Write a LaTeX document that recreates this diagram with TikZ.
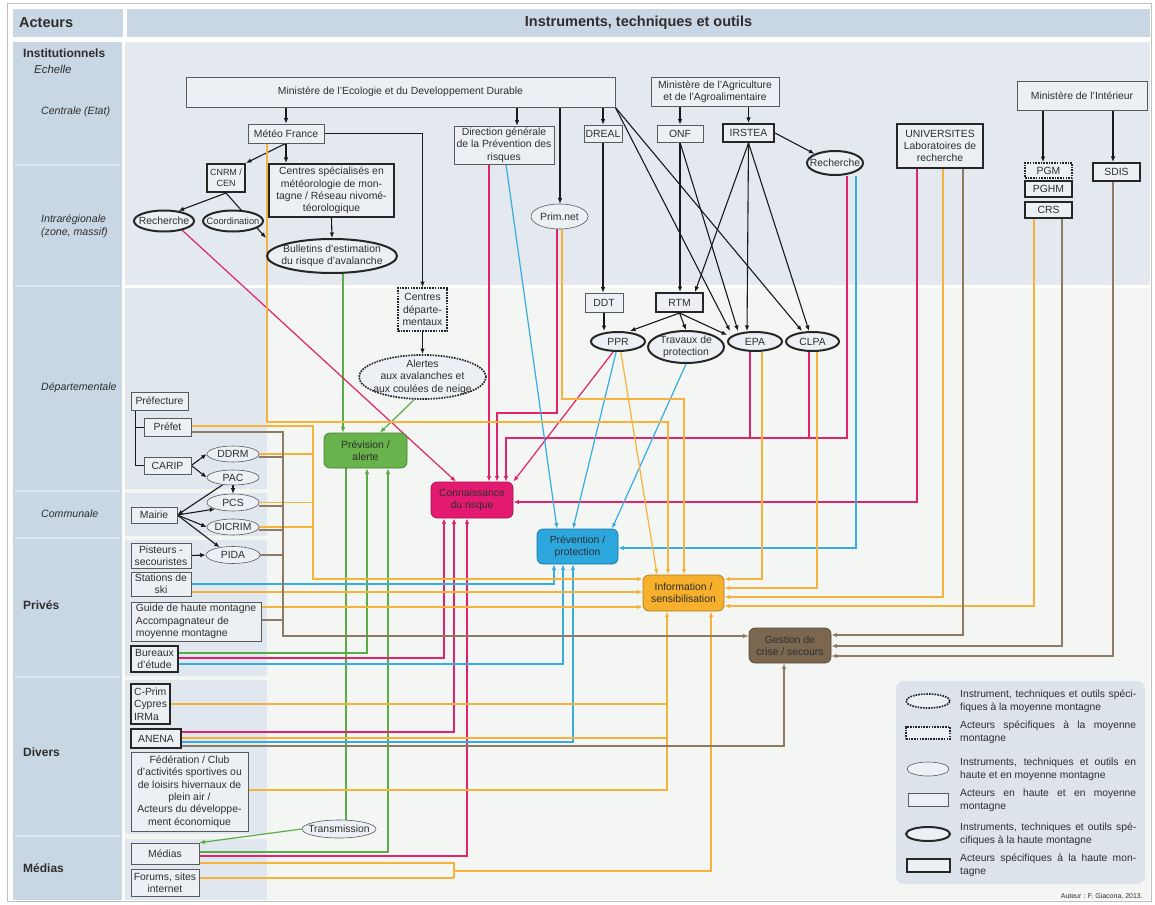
\documentclass[tikz,border=0pt]{standalone}
\usepackage{fontspec}
\setmainfont{Liberation Sans}
\usetikzlibrary{arrows.meta,shapes.geometric}
\pgfdeclarelayer{back}
\pgfdeclarelayer{mid}
\pgfsetlayers{back,mid,main}
\definecolor{colA}{HTML}{C9D6E4}
\definecolor{colLine}{HTML}{DDE5ED}
\definecolor{colTop}{HTML}{E4E9F0}
\definecolor{colLow}{HTML}{F4F6F4}
\definecolor{colStrip}{HTML}{E0E7EF}
\definecolor{colLeg}{HTML}{DCE3EB}
\definecolor{nfill}{HTML}{ECF0F5}
\definecolor{txt}{HTML}{2E2E2E}
\definecolor{gry}{HTML}{5A5A5A}
\definecolor{cRed}{HTML}{E0236D}
\definecolor{cBlue}{HTML}{36ACE0}
\definecolor{cOr}{HTML}{F6B23A}
\definecolor{cGreen}{HTML}{5AAD46}
\definecolor{cBrown}{HTML}{8D7B65}
\definecolor{fGreen}{HTML}{68B34B}
\definecolor{fRed}{HTML}{E31A70}
\definecolor{fBlue}{HTML}{2BA7DE}
\definecolor{fOr}{HTML}{F6B02C}
\definecolor{fBrown}{HTML}{7B6750}
\tikzset{
  every node/.style={text=txt, inner sep=0pt, align=center, font=\fontsize{10.4}{12.4}\selectfont},
  sz/.style 2 args={minimum width=#1pt, minimum height=#2pt},
  tbox/.style={draw=gry, line width=0.6pt, fill=nfill},
  kbox/.style={draw=black!85, line width=2pt, fill=nfill},
  dbox/.style={draw=black!85, line width=1.7pt, dash pattern=on 1.6pt off 1.1pt, fill=nfill},
  el/.style={ellipse},
  lbl/.style={align=center, text=txt, font=\fontsize{10.4}{12.4}\selectfont},
  tx/.style={label={[lbl]center:#1}},
  hub/.style={rounded corners=6pt, line width=0.7pt},
  arw/.style={-{Latex[length=5.5pt,width=4.5pt]}},
  kl/.style={draw=black!90, line width=1.1pt},
  rl/.style={draw=cRed, line width=1.2pt},
  bl/.style={draw=cBlue, line width=1.2pt},
  ol/.style={draw=cOr, line width=1.2pt},
  gl/.style={draw=cGreen, line width=1.2pt},
  nl/.style={draw=cBrown, line width=1.2pt},
  rowb/.style={anchor=west, font=\bfseries\fontsize{12}{14}\selectfont},
  rowi/.style={anchor=west, align=left, font=\itshape\fontsize{10.6}{12.5}\selectfont},
  legt/.style={anchor=west, text width=176pt, align=justify, font=\fontsize{10.3}{12.8}\selectfont}
}
\begin{document}
\begin{tikzpicture}[x=1pt,y=-1pt]
\useasboundingbox (0,0) rectangle (1155,904);
\begin{pgfonlayer}{back}
\fill[white] (0,0) rectangle (1155,904);
\draw[black!25, line width=0.8pt] (7,3) rectangle (1151,901);
\fill[colA] (13,9) rectangle (123,37);
\fill[colA] (127,9) rectangle (1150,37);
\fill[colA] (13,42) rectangle (122,900);
\foreach \yy in {165,286,491,538,677,836} \draw[colLine, line width=1.2pt] (15,\yy) -- (120,\yy);
\fill[colTop] (125,42) rectangle (1150,285);
\fill[colLow] (125,288) rectangle (1150,900);
\fill[colStrip] (125,288) rectangle (267,489);
\fill[colStrip] (125,493) rectangle (267,536);
\fill[colStrip] (125,540) rectangle (267,676);
\fill[colStrip] (125,680) rectangle (267,834);
\fill[colStrip] (125,839) rectangle (267,900);
\fill[colLeg, rounded corners=8pt] (896,681) rectangle (1145,884);
\end{pgfonlayer}

% headers and row labels
\node[anchor=west, font=\bfseries\fontsize{14.5}{16}\selectfont] (hA) at (19,23) {Acteurs};
\node[font=\bfseries\fontsize{14.5}{16}\selectfont] (hI) at (638.5,23) {Instruments, techniques et outils};
\node[rowb] (rInst) at (23,53) {Institutionnels};
\node[rowi, font=\itshape\fontsize{11.4}{13}\selectfont] (rEch) at (34,69) {Echelle};
\node[rowi] (rCen) at (41,112) {Centrale (Etat)};
\node[rowi] (rInt) at (41,226) {Intrarégionale\\(zone, massif)};
\node[rowi] (rDep) at (41,388) {Départementale};
\node[rowi] (rCom) at (41,514) {Communale};
\node[rowb] (rPri) at (23,605) {Privés};
\node[rowb] (rDiv) at (23,752) {Divers};
\node[rowb] (rMed) at (23,868) {Médias};

% top actors
\node[tbox, sz={429}{30}] (mineco) at (400.5,92) {Ministère de l’Ecologie et du Developpement Durable};
\node[tbox, sz={128}{29}] (minagri) at (715,91.5) {Ministère de l’Agriculture\\et de l’Agroalimentaire};
\node[tbox, sz={130}{29}] (minint) at (1082,95.5) {Ministère de l’Intérieur};
\node[tbox, sz={76}{19}] (meteo) at (286,133.5) {Météo France};
\node[kbox, sz={38}{28}, font=\fontsize{9}{11}\selectfont] (cnrm) at (226,178) {CNRM /\\CEN};
\node[kbox, sz={125}{53}] (cspec) at (331.5,190.5) {Centres spécialisés en\\météorologie de mon-\\tagne / Réseau nivomé-\\téorologique};
\node[kbox, el, sz={60}{21}, tx=Recherche] (rechL) at (164,221) {};
\node[kbox, el, sz={60}{21}, label={[lbl,font=\fontsize{9.3}{11}\selectfont]center:Coordination}] (coord) at (233,221) {};
\node[kbox, el, sz={130}{34}, tx={Bulletins d’estimation\\du risque d’avalanche}] (bull) at (332,256) {};
\node[tbox, sz={100}{38}] (dg) at (504,145) {Direction générale\\de la Prévention des\\risques};
\node[tbox, el, sz={57}{25}, tx=Prim.net] (prim) at (559.5,216.5) {};
\node[tbox, sz={38}{17}] (dreal) at (603,133.5) {DREAL};
\node[tbox, sz={46}{17}] (onf) at (680,133.5) {ONF};
\node[kbox, sz={51}{18}] (irstea) at (748.5,133) {IRSTEA};
\node[kbox, el, sz={56}{24}, tx=Recherche] (rechR) at (835,163) {};
\node[kbox, sz={86}{44}] (univ) at (940,146) {UNIVERSITES\\Laboratoires de\\recherche};
\node[dbox, sz={47}{15}] (pgm) at (1048.5,170.5) {PGM};
\node[kbox, sz={47}{16}] (pghm) at (1048.5,189) {PGHM};
\node[kbox, sz={47}{16}] (crs) at (1048.5,210) {CRS};
\node[kbox, sz={47}{18}] (sdis) at (1116.5,172) {SDIS};

% lower instruments
\node[dbox, sz={49}{43}] (cdep) at (422.5,309.5) {Centres\\départe-\\mentaux};
\node[dbox, el, sz={127}{44}, tx={Alertes\\aux avalanches et\\aux coulées de neige}] (alertes) at (422.5,377) {};
\node[tbox, sz={38}{19}] (ddt) at (604,302.5) {DDT};
\node[kbox, sz={47}{19}] (rtm) at (679.5,302.5) {RTM};
\node[kbox, el, sz={54}{19}, tx=PPR] (ppr) at (618,341.5) {};
\node[kbox, el, sz={76}{32}, tx={Travaux de\\protection}] (trav) at (686,347) {};
\node[kbox, el, sz={54}{19}, tx=EPA] (epa) at (755,341.5) {};
\node[kbox, el, sz={53}{19}, tx=CLPA] (clpa) at (812.5,341.5) {};

% hubs
\node[hub, fill=fGreen, draw=fGreen!70!black, sz={83}{35}] (previs) at (365.5,450.5) {Prévision /\\alerte};
\node[hub, fill=fRed, draw=fRed!70!black, sz={82}{36}] (conn) at (472,500) {Connaissance\\du risque};
\node[hub, fill=fBlue, draw=fBlue!70!black, sz={81}{35}] (prev) at (577.5,546.5) {Prévention /\\protection};
\node[hub, fill=fOr, draw=fOr!70!black, sz={81}{36}] (info) at (683.5,593) {Information /\\sensibilisation};
\node[hub, fill=fBrown, draw=fBrown!70!black, sz={82}{35}] (gest) at (790,645.5) {Gestion de\\crise / secours};

% left actors
\node[tbox, sz={57}{18}] (prefec) at (159.5,401) {Préfecture};
\node[tbox, sz={47}{18}] (prefet) at (167.5,427) {Préfet};
\node[tbox, sz={47}{17}] (carip) at (167.5,465.5) {CARIP};
\node[tbox, el, sz={52}{16}, tx=DDRM] (ddrm) at (233,454) {};
\node[tbox, el, sz={52}{15}, tx=PAC] (pac) at (233,477.5) {};
\node[tbox, el, sz={52}{17}, tx=PCS] (pcs) at (233,502.5) {};
\node[tbox, el, sz={52}{16}, tx=DICRIM] (dicrim) at (233,527) {};
\node[tbox, el, sz={54}{17}, tx=PIDA] (pida) at (233,555) {};
\node[tbox, sz={46}{16}] (mairie) at (154,515) {Mairie};
\node[tbox, sz={60}{25}] (pist) at (161,555.5) {Pisteurs -\\secouristes};
\node[tbox, sz={60}{24}] (stat) at (161,584) {Stations de\\ski};
\node[tbox, sz={130}{39}, align=left] (guide) at (196,621.5) {Guide de haute montagne\\Accompagnateur de\\moyenne montagne};
\node[kbox, sz={47}{26}] (bur) at (154.5,659) {Bureaux\\d’étude};
\node[kbox, sz={39}{40}, align=left] (cprim) at (150.5,704) {C-Prim\\Cypres\\IRMa};
\node[kbox, sz={50}{19}] (anena) at (156,738.5) {ANENA};
\node[tbox, sz={117}{79}] (fed) at (189.5,791.5) {Fédération / Club\\d’activités sportives ou\\de loisirs hivernaux de\\plein air /\\Acteurs du développe-\\ment économique};
\node[tbox, el, sz={74}{18}, tx=Transmission] (trans) at (339,829) {};
\node[tbox, sz={68}{21}] (medias) at (165,853.5) {Médias};
\node[tbox, sz={68}{27}] (forums) at (165,882.5) {Forums, sites\\internet};

% legend
\node[dbox, el, sz={44}{14}] (lg1) at (928,701) {};
\node[dbox, sz={44}{12}] (lg2) at (928,733) {};
\node[tbox, el, sz={42}{14}] (lg3) at (928,769) {};
\node[tbox, sz={40}{13}] (lg4) at (928,799.5) {};
\node[kbox, el, sz={44}{14}] (lg5) at (928,834) {};
\node[kbox, sz={43}{13}] (lg6) at (928.5,865.5) {};
\node[legt] (lt1) at (960,701) {Instrument, techniques et outils spéci-\linebreak fiques à la moyenne montagne};
\node[legt] (lt2) at (960,732.5) {Acteurs spécifiques à la moyenne\linebreak montagne};
\node[legt] (lt3) at (960,769) {Instruments, techniques et outils en\linebreak haute et en moyenne montagne};
\node[legt] (lt4) at (960,800) {Acteurs en haute et en moyenne\linebreak montagne};
\node[legt] (lt5) at (960,834) {Instruments, techniques et outils spé-\linebreak cifiques à la haute montagne};
\node[legt] (lt6) at (960,865.5) {Acteurs spécifiques à la haute mon-\linebreak tagne};
\node[anchor=east, font=\fontsize{7}{8}\selectfont] (aut) at (1143,896) {Auteur : F. Giacona, 2013.};

\begin{pgfonlayer}{mid}
% black hierarchy
\draw[kl,arw] (mineco.south -| meteo.north) -- (meteo.north);
\draw[kl,arw] (meteo.south) -- (cnrm.north east);
\draw[kl,arw] (meteo.south) -- (cspec.north -| meteo.south);
\draw[kl,arw] (cnrm.south) -- (rechL.35);
\draw[kl,arw] (cnrm.south) -- (bull.west |- bull.north);
\draw[kl,arw] (cspec.south) -- (bull.north);
\draw[kl,arw] (meteo.east) -| (cdep.north);
\draw[kl,arw] (cdep.south) -- (alertes.north);
\draw[kl,arw] (mineco.south -| 517,0) -- (dg.north -| 517,0);
\draw[kl,arw] (mineco.south -| 560,0) -- (prim.north -| 560,0);
\draw[kl,arw] (mineco.south -| dreal.north) -- (dreal.north);
\draw[kl,arw] (dreal.south) -- (dreal.south |- ddt.north);
\draw[kl,arw] (ddt.south) -- (ppr.north -| ddt.south);
\draw[kl,arw] (minagri.south -| onf.north) -- (onf.north);
\draw[kl,arw] (minagri.south -| irstea.north) -- (irstea.north);
\draw[kl,arw] (irstea.east) -- (rechR.north west);
\draw[kl,arw] (onf.south) -- (rtm.north -| onf.south);
\draw[kl,arw] (onf.south) -- (epa.north -| 738,0);
\draw[kl,arw] (irstea.south) -- (rtm.north -| 695,0);
\draw[kl,arw] (irstea.south) -- (epa.north -| 747,0);
\draw[kl,arw] (irstea.south) -- (clpa.north -| 809,0);
\draw[kl,arw] (mineco.south east) -- (epa.north -| 730,0);
\draw[kl,arw] (mineco.south east) -- (clpa.north -| 802,0);
\draw[kl,arw] (rtm.south) -- (ppr.north -| 630,0);
\draw[kl,arw] (rtm.south) -- (trav.north);
\draw[kl,arw] (rtm.south) -- (epa.west |- 0,335);
\draw[kl,arw] (minint.south -| 1043,0) -- (pgm.north -| 1043,0);
\draw[kl,arw] (minint.south -| 1113,0) -- (sdis.north -| 1113,0);
\draw[kl, line width=0.9pt] (prefec.south -| 135,0) |- (prefet.west);
\draw[kl, line width=0.9pt] (prefec.south -| 135,0) |- (carip.west);
\draw[kl,arw] (carip.east) -- (ddrm.west);
\draw[kl,arw] (carip.east) -- (pac.west);
\draw[kl,arw] (pac.south) -- (pcs.north);
\draw[kl,arw] (pac.215) -- (mairie.east);
\draw[kl,arw] (mairie.east) -- (pcs.200);
\draw[kl,arw] (mairie.east) -- (dicrim.west);
\draw[kl,arw] (mairie.east) -- (pida.150);
\draw[kl,arw] (pist.east) -- (pida.west);

% green
\draw[gl,arw] (bull.south -| 343,0) -- (previs.north -| 343,0);
\draw[gl,arw] (alertes.250) -- (previs.north -| 380,0);
\draw[gl] (previs.south -| 346,0) -- (trans.north -| 346,0);
\draw[gl,arw] (trans.west) -- (medias.north east);
\draw[gl,arw] (bur.east |- 0,653) -| (previs.south -| 367,0);
\draw[gl,arw] (medias.east |- 0,852) -| (previs.south -| 388,0);

% red
\draw[rl,arw] (rechL.-27) -- (conn.north -| 456,0);
\draw[rl,arw] (dg.south -| 489,0) -- (conn.north -| 489,0);
\draw[rl,arw] (prim.south -| 557,0) |- (497,413) -- (conn.north -| 497,0);
\draw[rl,arw] (rechR.south -| 847,0) |- (506,438) -- (conn.north -| 506,0);
\draw[rl] (epa.south -| 750,0) -- (750,438);
\draw[rl] (clpa.south -| 809,0) -- (809,438);
\draw[rl,arw] (ppr.245) -- (conn.north east);
\draw[rl,arw] (univ.south -| 917,0) |- (conn.east |- 0,502);
\draw[rl,arw] (bur.east |- 0,658) -| (conn.south -| 444,0);
\draw[rl,arw] (anena.east |- 0,732) -| (conn.south -| 454,0);
\draw[rl,arw] (medias.east |- 0,856) -| (conn.south -| 467,0);

% blue
\draw[bl,arw] (dg.south -| 506,0) -- (prev.north -| 557,0);
\draw[bl,arw] (ppr.260) -- (prev.north -| 573,0);
\draw[bl,arw] (trav.south) -- (prev.north -| 612,0);
\draw[bl,arw] (rechR.south -| 856,0) |- (prev.east |- 0,548);
\draw[bl,arw] (stat.east |- 0,584) -| (prev.south -| 554,0);
\draw[bl,arw] (bur.east |- 0,664) -| (prev.south -| 563,0);
\draw[bl,arw] (anena.east |- 0,742) -| (prev.south -| 573,0);

% orange
\draw[ol,arw] (meteo.south -| 267,0) |- (668,422) -- (info.north -| 668,0);
\draw[ol,arw] (prim.south -| 562,0) |- (684,399) -- (info.north -| 684,0);
\draw[ol,arw] (ppr.285) -- (info.north -| 657,0);
\draw[ol,arw] (epa.south -| 762,0) |- (info.east |- 0,579);
\draw[ol,arw] (clpa.south -| 817,0) |- (info.east |- 0,588);
\draw[ol,arw] (univ.south -| 943,0) |- (info.east |- 0,597);
\draw[ol,arw] (crs.south -| 1034,0) |- (info.east |- 0,606);
\draw[ol,arw] (prefet.east |- 0,426) -| (313,579) -- (info.west |- 0,579);
\draw[ol] (ddrm.east) -- (313,454);
\draw[ol] (pcs.east) -- (313,502.5);
\draw[ol] (dicrim.east) -- (313,527);
\draw[ol,arw] (stat.east |- 0,592) -- (info.west |- 0,592);
\draw[ol,arw] (guide.east |- 0,607) -- (info.west |- 0,607);
\draw[ol,arw] (fed.east |- 0,790) -| (info.south -| 667,0);
\draw[ol] (cprim.east |- 0,704) -- (667,704);
\draw[ol] (anena.east |- 0,738) -- (667,738);
\draw[ol] (medias.east |- 0,863) -- (454,863) -- (454,878);
\draw[ol] (forums.east |- 0,878) -- (454,878);
\draw[ol,arw] (454,871) -| (info.south -| 711,0);

% brown
\draw[nl,arw] (prefet.east |- 0,432) -| (283,636) -- (gest.west |- 0,636);
\draw[nl] (ddrm.east |- 0,457) -- (283,457);
\draw[nl] (pcs.east |- 0,506) -- (283,506);
\draw[nl] (dicrim.east |- 0,530) -- (283,530);
\draw[nl] (pida.east) -- (283,555);
\draw[nl] (guide.east |- 0,620) -- (283,620);
\draw[nl,arw] (univ.south -| 963,0) |- (gest.east |- 0,635);
\draw[nl,arw] (crs.south -| 1062,0) |- (gest.east |- 0,646);
\draw[nl,arw] (sdis.south -| 1113,0) |- (gest.east |- 0,656);
\draw[nl,arw] (anena.east |- 0,746) -| (gest.south -| 784,0);
\end{pgfonlayer}
\end{tikzpicture}
\end{document}
